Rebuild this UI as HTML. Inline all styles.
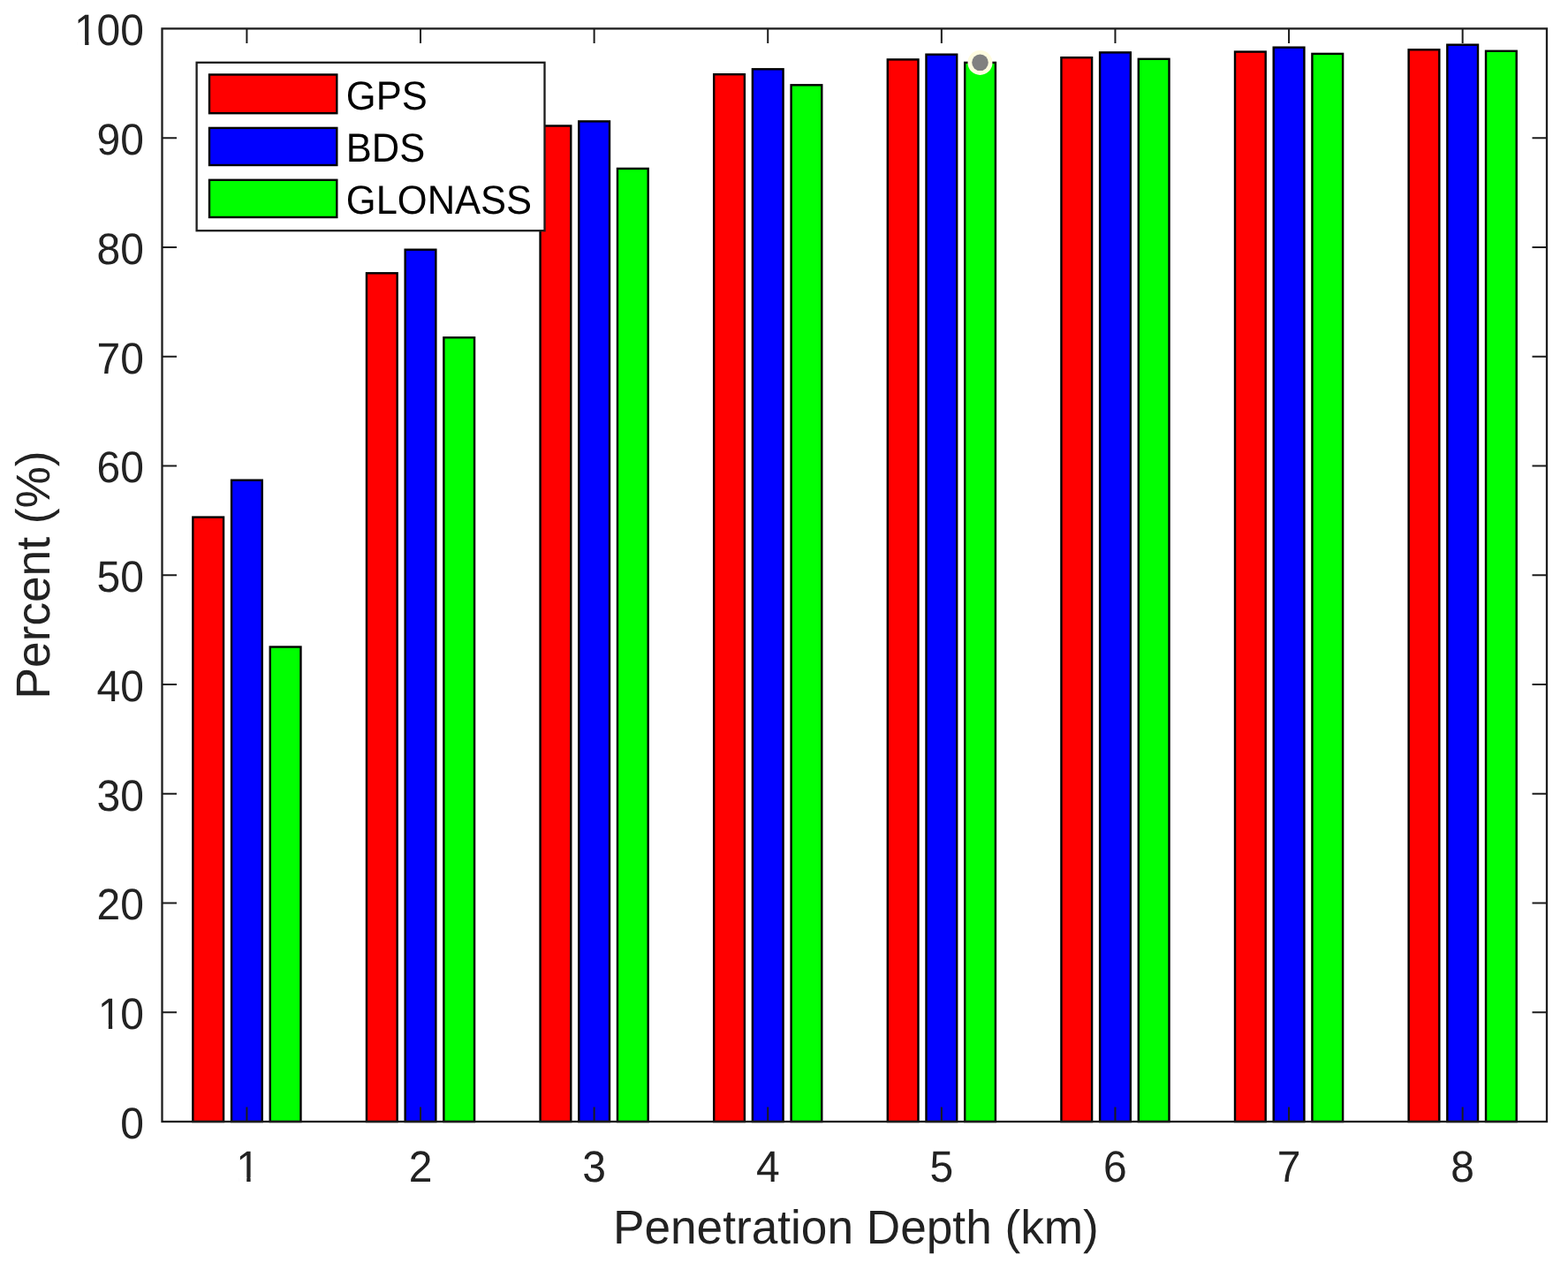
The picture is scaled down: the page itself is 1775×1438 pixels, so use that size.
<!DOCTYPE html><html><head><meta charset="utf-8"><title>Penetration Depth</title>
<style>html,body{margin:0;padding:0;background:#fff;overflow:hidden;}svg{display:block;}text{font-family:"Liberation Sans",Arial,Helvetica,sans-serif;text-rendering:geometricPrecision;}</style></head><body>
<svg width="1775" height="1438" viewBox="0 0 1775 1438">
<rect x="0" y="0" width="1775" height="1438" fill="#ffffff"/>
<g stroke="#000" stroke-width="2.4">
<rect x="218.35" y="585.6" width="34.7" height="684.4" fill="#ff0000"/>
<rect x="262.05" y="543.7" width="34.7" height="726.3" fill="#0000ff"/>
<rect x="305.75" y="732.5" width="34.7" height="537.5" fill="#00ff00"/>
<rect x="414.96" y="309.3" width="34.7" height="960.7" fill="#ff0000"/>
<rect x="458.66" y="282.7" width="34.7" height="987.3" fill="#0000ff"/>
<rect x="502.36" y="382.2" width="34.7" height="887.8" fill="#00ff00"/>
<rect x="611.57" y="142.5" width="34.7" height="1127.5" fill="#ff0000"/>
<rect x="655.27" y="137.4" width="34.7" height="1132.6" fill="#0000ff"/>
<rect x="698.97" y="190.9" width="34.7" height="1079.1" fill="#00ff00"/>
<rect x="808.18" y="84.2" width="34.7" height="1185.8" fill="#ff0000"/>
<rect x="851.88" y="78.3" width="34.7" height="1191.7" fill="#0000ff"/>
<rect x="895.58" y="96.3" width="34.7" height="1173.7" fill="#00ff00"/>
<rect x="1004.79" y="67.4" width="34.7" height="1202.6" fill="#ff0000"/>
<rect x="1048.49" y="61.7" width="34.7" height="1208.3" fill="#0000ff"/>
<rect x="1092.19" y="70.9" width="34.7" height="1199.1" fill="#00ff00"/>
<rect x="1201.4" y="65.2" width="34.7" height="1204.8" fill="#ff0000"/>
<rect x="1245.1" y="59.4" width="34.7" height="1210.6" fill="#0000ff"/>
<rect x="1288.8" y="66.8" width="34.7" height="1203.2" fill="#00ff00"/>
<rect x="1398.01" y="58.6" width="34.7" height="1211.4" fill="#ff0000"/>
<rect x="1441.71" y="53.7" width="34.7" height="1216.3" fill="#0000ff"/>
<rect x="1485.41" y="60.9" width="34.7" height="1209.1" fill="#00ff00"/>
<rect x="1594.62" y="56.3" width="34.7" height="1213.7" fill="#ff0000"/>
<rect x="1638.32" y="50.7" width="34.7" height="1219.3" fill="#0000ff"/>
<rect x="1682.02" y="57.8" width="34.7" height="1212.2" fill="#00ff00"/>
</g>
<path d="M279.4 1270V1253.5M279.4 32.4V48.9M476.01 1270V1253.5M476.01 32.4V48.9M672.62 1270V1253.5M672.62 32.4V48.9M869.23 1270V1253.5M869.23 32.4V48.9M1065.84 1270V1253.5M1065.84 32.4V48.9M1262.45 1270V1253.5M1262.45 32.4V48.9M1459.06 1270V1253.5M1459.06 32.4V48.9M1655.67 1270V1253.5M1655.67 32.4V48.9M183.5 1146.24H200M1751 1146.24H1734.5M183.5 1022.48H200M1751 1022.48H1734.5M183.5 898.72H200M1751 898.72H1734.5M183.5 774.96H200M1751 774.96H1734.5M183.5 651.2H200M1751 651.2H1734.5M183.5 527.44H200M1751 527.44H1734.5M183.5 403.68H200M1751 403.68H1734.5M183.5 279.92H200M1751 279.92H1734.5M183.5 156.16H200M1751 156.16H1734.5" stroke="#1c1c1c" stroke-width="2" fill="none"/>
<rect x="183.5" y="32.4" width="1567.5" height="1237.6" fill="none" stroke="#1c1c1c" stroke-width="2.3"/>
<g fill="#222222" font-size="48">
<text transform="translate(266.05 1337.8) scale(1 1.035)" x="1.2">1</text>
<text transform="translate(462.66 1337.8) scale(1 1.035)" x="0">2</text>
<text transform="translate(659.27 1337.8) scale(1 1.035)" x="0">3</text>
<text transform="translate(855.88 1337.8) scale(1 1.035)" x="0">4</text>
<text transform="translate(1052.49 1337.8) scale(1 1.035)" x="0">5</text>
<text transform="translate(1249.1 1337.8) scale(1 1.035)" x="0">6</text>
<text transform="translate(1445.71 1337.8) scale(1 1.035)" x="0">7</text>
<text transform="translate(1642.32 1337.8) scale(1 1.035)" x="0">8</text>
<text transform="translate(136.3 1289) scale(1 1.035)" x="0">0</text>
<text transform="translate(109.61 1165.24) scale(1 1.035)" x="1.2 26.7">10</text>
<text transform="translate(109.61 1041.48) scale(1 1.035)" x="0 26.7">20</text>
<text transform="translate(109.61 917.72) scale(1 1.035)" x="0 26.7">30</text>
<text transform="translate(109.61 793.96) scale(1 1.035)" x="0 26.7">40</text>
<text transform="translate(109.61 670.2) scale(1 1.035)" x="0 26.7">50</text>
<text transform="translate(109.61 546.44) scale(1 1.035)" x="0 26.7">60</text>
<text transform="translate(109.61 422.68) scale(1 1.035)" x="0 26.7">70</text>
<text transform="translate(109.61 298.92) scale(1 1.035)" x="0 26.7">80</text>
<text transform="translate(109.61 175.16) scale(1 1.035)" x="0 26.7">90</text>
<text transform="translate(82.91 51.4) scale(1 1.035)" x="1.2 26.7 53.39">100</text>
</g>
<rect x="270.17" y="1332.99" width="9.1" height="6.21" fill="#fff"/>
<rect x="283.61" y="1332.99" width="8.78" height="6.21" fill="#fff"/>
<rect x="113.73" y="1159.99" width="9.1" height="6.21" fill="#fff"/>
<rect x="127.17" y="1159.99" width="8.78" height="6.21" fill="#fff"/>
<rect x="87.03" y="45.99" width="9.1" height="6.21" fill="#fff"/>
<rect x="100.48" y="45.99" width="8.78" height="6.21" fill="#fff"/>
<text transform="translate(968.9 1408) scale(1 1.015)" fill="#222222" font-size="53.2" text-anchor="middle">Penetration Depth (km)</text>
<text transform="translate(56.1 651) rotate(-90) scale(1 1.015)" fill="#222222" font-size="53.2" text-anchor="middle">Percent (%)</text>
<rect x="222.6" y="70.8" width="393.9" height="190.4" fill="#fff" stroke="#1c1c1c" stroke-width="2.3"/>
<g fill="#000" font-size="43.5">
<rect x="237" y="84.5" width="144.3" height="43.7" fill="#ff0000" stroke="#000" stroke-width="2.4"/>
<text transform="translate(391.8 123.65) scale(1 1.05)">GPS</text>
<rect x="237" y="144.9" width="144.3" height="42.1" fill="#0000ff" stroke="#000" stroke-width="2.4"/>
<text transform="translate(391.8 183.25) scale(1 1.05)">BDS</text>
<rect x="237" y="203.8" width="144.3" height="42.2" fill="#00ff00" stroke="#000" stroke-width="2.4"/>
<text transform="translate(391.8 242.2) scale(1 1.05)">GLONASS</text>
</g>
<circle cx="1109.45" cy="70.9" r="14" fill="#fffce0"/>
<circle cx="1109.5" cy="70.8" r="9.3" fill="#808080"/>
</svg></body></html>
